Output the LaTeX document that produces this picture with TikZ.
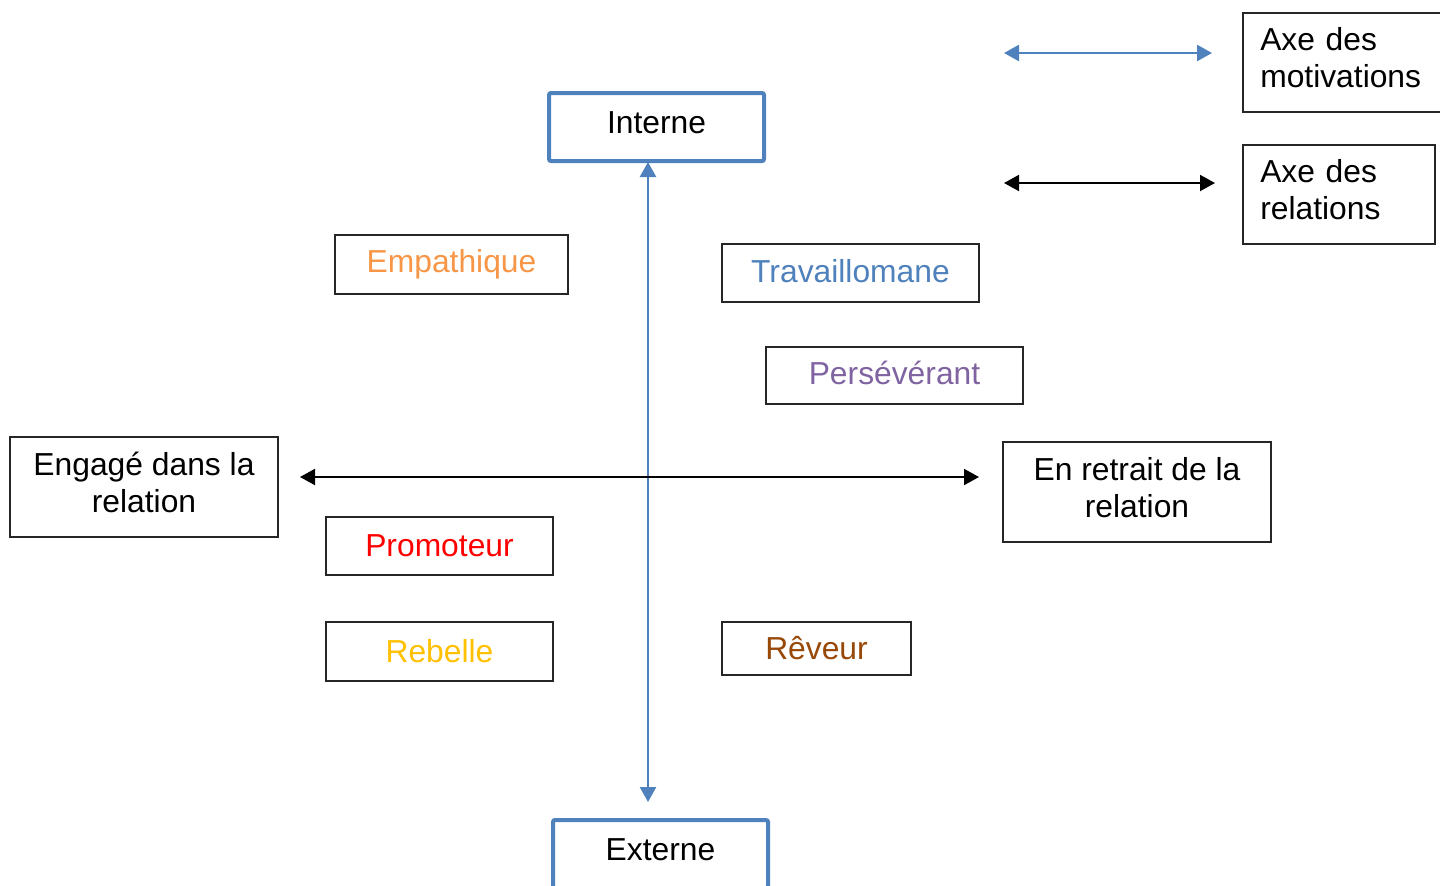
\documentclass[tikz,border=0pt]{standalone}
\usepackage{fontspec}
\setmainfont{Liberation Sans}
\usetikzlibrary{arrows.meta}
\definecolor{oblue}{HTML}{4F81BD}
\definecolor{oorange}{HTML}{F79646}
\definecolor{opurple}{HTML}{8064A2}
\definecolor{ored}{HTML}{FF0000}
\definecolor{oyellow}{HTML}{FFC000}
\definecolor{obrown}{HTML}{984807}
\newdimen\pxu \pxu=0.5pt
\newcommand\liftup[2][2.2pt]{\raisebox{#1}[\height][\depth]{#2}}
\tikzset{
  bx/.style={draw=black!85, line width=1.5\pxu, inner sep=0pt, align=center,
    font=\fontsize{15.9}{18.5}\selectfont},
  axbox/.style={draw=oblue, line width=4\pxu, inner sep=0pt, rounded corners=1pt,
    minimum width=215\pxu, minimum height=68\pxu, font=\fontsize{15.9}{18.5}\selectfont},
  blk/.style={draw=black, line width=1pt, {Triangle[length=7.5pt,width=8pt]}-{Triangle[length=7.5pt,width=8pt]}},
  blu/.style={draw=oblue, line width=1.2pt, color=oblue, {Triangle[length=7.5pt,width=8pt]}-{Triangle[length=7.5pt,width=8pt]}},
}
\begin{document}
\begin{tikzpicture}[x=0.5pt,y=-0.5pt]
\useasboundingbox (0,0) rectangle (1440,885);
\fill[white] (0,0) rectangle (1440,885);
\clip (0,0) rectangle (1440,885);

% axis end boxes
\node[axbox] (int) at (656.5,127) {\liftup{Interne}};
\node[axbox] (ext) at (660.5,854) {\liftup{Externe}};

% category boxes
\node[bx, minimum width=233\pxu, minimum height=59\pxu, text=oorange] (emp) at (451.5,264.5) {Empathique};
\node[bx, minimum width=257\pxu, minimum height=58\pxu, text=oblue] (tra) at (850.5,273) {\liftup[1pt]{Travaillomane}};
\node[bx, minimum width=257\pxu, minimum height=57\pxu, text=opurple] (per) at (894.5,375.5) {\liftup[1.5pt]{Persévérant}};
\node[bx, minimum width=268\pxu, minimum height=100\pxu] (eng) at (144,487) {\liftup{Engagé dans la}\\\liftup{relation}};
\node[bx, minimum width=268\pxu, minimum height=100\pxu] (ret) at (1137,492) {\liftup{En retrait de la}\\\liftup{relation}};
\node[bx, minimum width=227\pxu, minimum height=58\pxu, text=ored] (pro) at (439.5,546) {Promoteur};
\node[bx, minimum width=227\pxu, minimum height=59\pxu, text=oyellow] (reb) at (439.5,651.5) {Rebelle};
\node[bx, minimum width=189\pxu, minimum height=53\pxu, text=obrown] (rev) at (816.5,648.5) {Rêveur};

% legend boxes
\node[bx, anchor=north west, align=left, text width=164\pxu, inner xsep=17.5\pxu, minimum height=99\pxu] (axm) at (1242,12) {\liftup{Axe des}\\\liftup{motivations}};
\node[bx, anchor=north west, align=left, text width=157\pxu, inner xsep=17.5\pxu, minimum height=99\pxu] (axr) at (1242,144) {\liftup{Axe des}\\\liftup{relations}};

% axes
\coordinate (vt) at (648,162);
\coordinate (vb) at (648,802);
\draw[blu] (vt) -- (vb);
\coordinate (hl) at (300,477);
\coordinate (hr) at (979,477);
\draw[blk] (hl) -- (hr);

% legend arrows
\coordinate (lb1) at (1004,53);
\coordinate (lb2) at (1212,53);
\draw[blu] (lb1) -- (lb2);
\coordinate (lk1) at (1004,183);
\coordinate (lk2) at (1215,183);
\draw[blk] (lk1) -- (lk2);
\end{tikzpicture}
\end{document}
